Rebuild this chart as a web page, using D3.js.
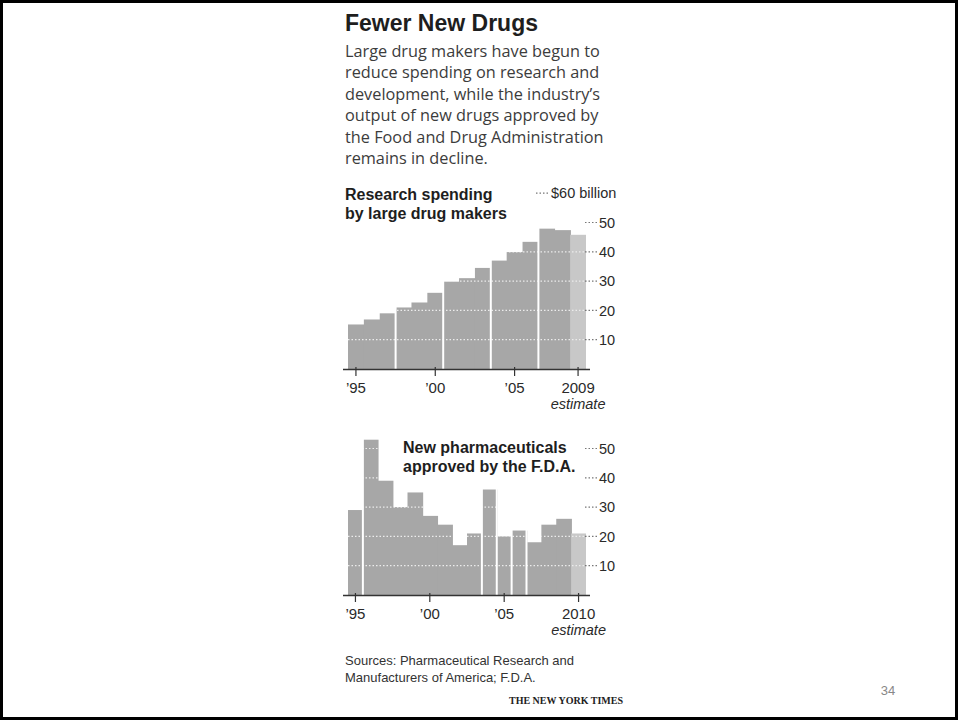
<!DOCTYPE html>
<html>
<head>
<meta charset="utf-8">
<script src="https://cdn.jsdelivr.net/npm/d3@7"></script>
<style>
  body { margin: 0; background: #fff; }
  svg { display: block; font-family: "Liberation Sans", Arial, sans-serif; }
</style>
</head>
<body>
<div class="canvas"></div>
<script>
// chart data
const spendYears = [1995, 1996, 1997, 1998, 1999, 2000, 2001, 2002, 2003, 2004, 2005, 2006, 2007, 2008, 2009]
const spendValues = [15.2, 16.9, 19.0, 21.0, 22.7, 26.0, 29.8, 31.0, 34.5, 37.0, 39.9, 43.4, 47.9, 47.4, 45.8]
const spendBreaks = [1998, 2001, 2004, 2007]
const spendTicks = [10, 20, 30, 40, 50, 60]
const spendLabelYears = [1995, 2000, 2005, 2009]

const drugYears = [1995, 1996, 1997, 1998, 1999, 2000, 2001, 2002, 2003, 2004, 2005, 2006, 2007, 2008, 2009, 2010]
const drugValues = [29, 53, 39, 30, 35, 27, 24, 17, 21, 36, 20, 22, 18, 24, 26, 21]
const drugBreaks = [1996, 2004, 2005, 2006, 2007]
const drugTicks = [10, 20, 30, 40, 50]
const drugLabelYears = [1995, 2000, 2005, 2010]

const title = 'Fewer New Drugs'
const intro = [
  'Large drug makers have begun to',
  'reduce spending on research and',
  'development, while the industry\u2019s',
  'output of new drugs approved by',
  'the Food and Drug Administration',
  'remains in decline.'
]
const sources = [
  'Sources: Pharmaceutical Research and',
  'Manufacturers of America; F.D.A.'
]

const dims = { width: 958, height: 720 }
const barCol = '#a7a7a7'
const estCol = '#c8c8c8'

const svg = d3.select('.canvas')
  .append('svg')
  .attr('width', dims.width)
  .attr('height', dims.height)

svg.append('rect')
  .attr('x', 1.5).attr('y', 1.5)
  .attr('width', dims.width - 3).attr('height', dims.height - 3)
  .attr('fill', '#fff')
  .attr('stroke', '#000')
  .attr('stroke-width', 3)

// heading block
svg.append('text')
  .attr('x', 345).attr('y', 31)
  .attr('font-size', 23).attr('font-weight', 'bold')
  .attr('fill', '#1e1e1e')
  .text(title)

svg.append('g').selectAll('text')
  .data(intro)
  .enter().append('text')
  .attr('x', 345)
  .attr('y', (d, i) => 57 + i * 21.4)
  .attr('font-family', '"Open Sans", sans-serif')
  .attr('font-size', 16.3)
  .attr('fill', '#3c3c3c')
  .text(d => d)

const fmtYear = (y, last) => y === last ? String(y) : '\u2019' + String(y).slice(2)

const drawChart = (cfg) => {
  const g = svg.append('g')
  const last = cfg.years[cfg.years.length - 1]

  const x = d3.scaleBand()
    .domain(cfg.years)
    .range([348, 586])
    .padding(0)

  const y = d3.scaleLinear()
    .domain([0, 10])
    .range([cfg.base, cfg.base - 29.3])

  const bars = cfg.years.map((yr, i) => ({ year: yr, value: cfg.values[i] }))

  // clip for the dotted grid so it only shows on the bars
  const clip = svg.append('defs').append('clipPath').attr('id', cfg.id + '-clip')
  clip.selectAll('rect')
    .data(bars)
    .enter().append('rect')
    .attr('x', d => x(d.year))
    .attr('y', d => y(d.value))
    .attr('width', x.bandwidth() + 0.8)
    .attr('height', d => cfg.base - y(d.value))

  g.selectAll('rect.bar')
    .data(bars)
    .enter().append('rect')
    .attr('class', 'bar')
    .attr('x', d => x(d.year))
    .attr('y', d => y(d.value))
    .attr('width', d => x.bandwidth() + (d.year === last ? 0 : 0.8))
    .attr('height', d => cfg.base - y(d.value))
    .attr('fill', d => d.year === last ? estCol : barCol)

  // dotted grid over bars
  g.append('g')
    .attr('clip-path', `url(#${cfg.id}-clip)`)
    .selectAll('line')
    .data(cfg.ticks)
    .enter().append('line')
    .attr('x1', 348).attr('x2', 587)
    .attr('y1', d => y(d)).attr('y2', d => y(d))
    .attr('stroke', '#ececec')
    .attr('stroke-width', 1.2)
    .attr('stroke-dasharray', '1.5,2')

  // white rules between some bars
  g.selectAll('line.brk')
    .data(cfg.breaks)
    .enter().append('line')
    .attr('class', 'brk')
    .attr('x1', d => x(d)).attr('x2', d => x(d))
    .attr('y1', cfg.base).attr('y2', d => y(d3.max([cfg.values[cfg.years.indexOf(d)], cfg.values[cfg.years.indexOf(d) - 1]])) - 1)
    .attr('stroke', '#fff')
    .attr('stroke-width', 2)

  // x axis
  g.append('line')
    .attr('x1', 343).attr('x2', 590)
    .attr('y1', cfg.base + 0.5).attr('y2', cfg.base + 0.5)
    .attr('stroke', '#333').attr('stroke-width', 1.5)

  const ax = g.selectAll('g.tick')
    .data(cfg.labelYears)
    .enter().append('g')
    .attr('class', 'tick')
    .attr('transform', d => `translate(${x(d) + x.bandwidth() / 2},0)`)

  ax.append('line')
    .attr('y1', cfg.base - 2).attr('y2', cfg.base + 7)
    .attr('stroke', '#333').attr('stroke-width', 1.2)

  ax.append('text')
    .attr('y', cfg.base + 24)
    .attr('text-anchor', 'middle')
    .attr('font-size', 15)
    .attr('fill', '#2a2a2a')
    .text(d => fmtYear(d, last))

  g.append('text')
    .attr('x', x(last) + x.bandwidth() / 2)
    .attr('y', cfg.base + 40)
    .attr('text-anchor', 'middle')
    .attr('font-size', 14.5)
    .attr('font-style', 'italic')
    .attr('fill', '#2a2a2a')
    .text('estimate')

  // right hand value labels with dotted leaders
  const lab = g.selectAll('g.ylab')
    .data(cfg.ticks)
    .enter().append('g')
    .attr('class', 'ylab')
    .attr('transform', d => `translate(0,${y(d)})`)

  lab.append('line')
    .attr('x1', d => d === cfg.topTick ? 536 : 585)
    .attr('x2', d => d === cfg.topTick ? 548 : 597)
    .attr('stroke', '#777')
    .attr('stroke-width', 1.2)
    .attr('stroke-dasharray', '1.5,2')

  lab.append('text')
    .attr('x', d => d === cfg.topTick ? 551 : 599)
    .attr('dy', '0.36em')
    .attr('font-size', 14.5)
    .attr('fill', '#2a2a2a')
    .text(d => d === cfg.topTick ? `$${d} billion` : d)

  // chart heading
  g.selectAll('text.head')
    .data(cfg.heading)
    .enter().append('text')
    .attr('class', 'head')
    .attr('x', cfg.headX)
    .attr('y', (d, i) => cfg.headY + i * 18.5)
    .attr('font-size', 16)
    .attr('font-weight', 'bold')
    .attr('fill', '#1e1e1e')
    .text(d => d)
}

drawChart({
  id: 'spend',
  years: spendYears,
  values: spendValues,
  breaks: spendBreaks,
  ticks: spendTicks,
  labelYears: spendLabelYears,
  topTick: 60,
  base: 369,
  heading: ['Research spending', 'by large drug makers'],
  headX: 345,
  headY: 200
})

drawChart({
  id: 'drugs',
  years: drugYears,
  values: drugValues,
  breaks: drugBreaks,
  ticks: drugTicks,
  labelYears: drugLabelYears,
  topTick: null,
  base: 595,
  heading: ['New pharmaceuticals', 'approved by the F.D.A.'],
  headX: 403,
  headY: 453
})

// footer
svg.append('g').selectAll('text')
  .data(sources)
  .enter().append('text')
  .attr('x', 345)
  .attr('y', (d, i) => 665 + i * 17)
  .attr('font-size', 13)
  .attr('fill', '#333')
  .text(d => d)

svg.append('text')
  .attr('x', 566).attr('y', 704)
  .attr('text-anchor', 'middle')
  .attr('font-family', '"Liberation Serif", serif')
  .attr('font-size', 10)
  .attr('font-weight', 'bold')
  .attr('fill', '#222')
  .text('THE NEW YORK TIMES')

svg.append('text')
  .attr('x', 888).attr('y', 695)
  .attr('text-anchor', 'middle')
  .attr('font-size', 13)
  .attr('fill', '#888')
  .text('34')
</script>
</body>
</html>
